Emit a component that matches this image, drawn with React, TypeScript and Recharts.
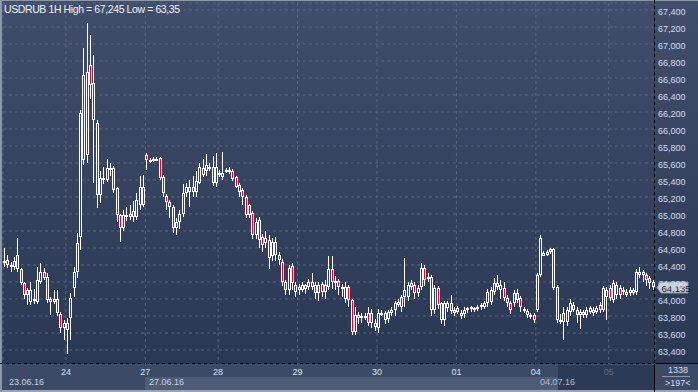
import React from 'react';
import { ComposedChart, Bar, XAxis, YAxis, CartesianGrid, ReferenceLine } from 'recharts';

// hourly candles, 23.06.16 05:00 .. 05.07.16
const opens = [
  64.424, 64.459, 64.4, 64.376, 64.518, 64.353, 64.188, 64.047, 63.965, 63.99,
  63.965, 64.2, 64.318, 64.26, 64.0, 63.965, 64.0, 63.82, 63.66, 63.63,
  63.78, 64.13, 64.32, 64.73, 66.635, 65.69, 66.75, 66.54, 66.07, 65.22,
  65.41, 65.4, 65.54, 65.54, 65.3, 64.99, 64.84, 64.99, 64.97, 64.97,
  64.96, 65.1, 65.32, 65.69, 65.64, 65.63, 65.65, 65.66, 65.44, 65.21,
  65.14, 65.08, 64.84, 64.9, 65.0, 65.25, 65.26, 65.32, 65.26, 65.37,
  65.46, 65.5, 65.55, 65.55, 65.36, 65.46, 65.43, 65.5, 65.52, 65.5,
  65.43, 65.34, 65.28, 65.2, 64.99, 65.01, 64.75, 64.93, 64.73, 64.66,
  64.69, 64.5, 64.67, 64.52, 64.44, 64.2, 64.11, 64.39, 64.08, 64.14,
  64.11, 64.16, 64.14, 64.2, 64.16, 64.07, 64.18, 64.08, 64.14, 64.35,
  64.2, 64.21, 64.14, 64.0, 64.14, 63.99, 63.61, 63.81, 63.78, 63.79,
  63.84, 63.72, 63.67, 63.66, 63.83, 63.84, 63.77, 63.83, 63.87, 63.96,
  63.9, 64.02, 64.02, 64.14, 64.16, 64.07, 64.14, 64.36, 64.23, 64.26,
  63.87, 64.13, 63.95, 63.75, 63.89, 63.95, 63.87, 63.85, 63.8, 63.82,
  63.87, 63.88, 63.89, 63.88, 63.9, 63.91, 63.95, 63.97, 64.08, 64.19,
  64.11, 64.13, 64.01, 63.95, 63.95, 64.07, 64.01, 63.88, 63.86, 63.81,
  63.81, 63.87, 64.28, 64.51, 64.52, 64.55, 64.59, 64.14, 63.75, 63.73,
  63.73, 63.85, 63.93, 63.87, 63.81, 63.85, 63.81, 63.85, 63.84, 63.85,
  63.93, 63.87, 64.02, 64.13, 63.99, 64.05, 64.13, 64.08, 64.05, 64.07,
  64.07, 64.08, 64.28, 64.32, 64.28, 64.25, 64.2,
];
const highs = [
  64.6, 64.518, 64.435, 64.494, 64.718, 64.37, 64.2, 64.13, 64.2, 64.12,
  64.376, 64.424, 64.36, 64.3, 64.02, 64.1, 64.1, 63.85, 63.75, 63.78,
  64.07, 64.38, 64.78, 66.22, 66.95, 67.245, 67.1, 66.87, 66.1, 65.5,
  65.55, 65.65, 65.6, 65.56, 65.32, 65.0, 65.05, 65.08, 65.1, 65.15,
  65.25, 65.45, 65.46, 65.72, 65.66, 65.67, 65.67, 65.67, 65.46, 65.24,
  65.16, 65.1, 64.95, 65.05, 65.35, 65.36, 65.4, 65.45, 65.5, 65.6,
  65.65, 65.7, 65.6, 65.68, 65.72, 65.52, 65.73, 65.54, 65.55, 65.53,
  65.45, 65.36, 65.3, 65.22, 65.12, 65.03, 64.95, 64.96, 64.76, 64.8,
  64.75, 64.72, 64.73, 64.55, 64.47, 64.22, 64.4, 64.42, 64.2, 64.18,
  64.2, 64.18, 64.24, 64.3, 64.2, 64.2, 64.2, 64.22, 64.5, 64.5,
  64.27, 64.24, 64.18, 64.2, 64.16, 64.0, 63.9, 63.85, 63.83, 63.84,
  63.9, 63.88, 63.76, 63.88, 63.87, 63.86, 63.87, 63.9, 63.98, 64.0,
  64.05, 64.48, 64.2, 64.22, 64.2, 64.17, 64.42, 64.4, 64.3, 64.28,
  64.17, 64.15, 63.97, 63.98, 63.98, 64.05, 63.9, 63.92, 63.87, 63.9,
  63.91, 63.92, 63.9, 63.93, 63.95, 63.98, 64.12, 64.14, 64.25, 64.28,
  64.22, 64.2, 64.05, 63.98, 64.1, 64.12, 64.03, 63.9, 63.88, 63.83,
  63.83, 64.3, 64.75, 64.56, 64.58, 64.6, 64.6, 64.16, 63.82, 63.9,
  63.9, 64.0, 63.97, 63.9, 63.88, 63.87, 63.9, 63.92, 63.9, 63.92,
  63.96, 64.15, 64.14, 64.17, 64.22, 64.2, 64.17, 64.14, 64.12, 64.14,
  64.13, 64.35, 64.38, 64.34, 64.3, 64.27, 64.22,
];
const lows = [
  64.376, 64.365, 64.318, 64.341, 64.318, 64.16, 64.0, 63.93, 63.93, 63.94,
  63.94, 64.18, 64.22, 63.95, 63.81, 63.94, 63.8, 63.6, 63.52, 63.35,
  63.52, 64.02, 64.25, 64.58, 65.58, 65.6, 66.35, 65.36, 65.07, 65.13,
  65.35, 65.38, 65.45, 65.25, 64.9, 64.67, 64.8, 64.92, 64.93, 64.9,
  64.93, 65.05, 65.08, 65.52, 65.6, 65.61, 65.62, 65.4, 65.2, 65.05,
  64.95, 64.78, 64.75, 64.82, 64.97, 65.2, 65.08, 65.2, 65.2, 65.35,
  65.44, 65.45, 65.5, 65.33, 65.32, 65.43, 65.4, 65.48, 65.47, 65.39,
  65.3, 65.2, 65.1, 64.95, 64.95, 64.7, 64.7, 64.6, 64.55, 64.6,
  64.35, 64.45, 64.45, 64.4, 64.15, 64.05, 64.05, 64.1, 64.02, 64.05,
  64.08, 64.06, 64.1, 64.1, 64.0, 63.98, 64.02, 64.0, 64.1, 64.12,
  64.1, 64.05, 64.02, 63.95, 63.9, 63.58, 63.58, 63.7, 63.72, 63.75,
  63.68, 63.66, 63.62, 63.6, 63.8, 63.7, 63.72, 63.8, 63.8, 63.9,
  63.85, 63.9, 63.98, 64.1, 64.0, 64.02, 64.1, 64.15, 64.2, 63.8,
  63.82, 63.88, 63.7, 63.68, 63.85, 63.82, 63.8, 63.82, 63.77, 63.78,
  63.84, 63.85, 63.85, 63.86, 63.87, 63.88, 63.9, 63.93, 64.05, 64.1,
  64.0, 63.98, 63.9, 63.82, 63.9, 63.95, 63.85, 63.83, 63.78, 63.76,
  63.72, 63.85, 64.26, 64.5, 64.5, 64.53, 64.1, 63.72, 63.7, 63.52,
  63.68, 63.8, 63.85, 63.72, 63.65, 63.78, 63.78, 63.82, 63.8, 63.82,
  63.84, 63.85, 63.75, 63.98, 63.95, 64.0, 64.0, 64.05, 64.02, 64.04,
  64.05, 64.05, 64.25, 64.2, 64.15, 64.12, 64.1,
];
const closes = [
  64.447, 64.4, 64.376, 64.447, 64.353, 64.188, 64.047, 64.106, 64.106, 64.0,
  64.224, 64.318, 64.25, 63.99, 63.97, 64.0, 63.83, 63.66, 63.72, 63.72,
  64.01, 64.32, 64.66, 66.19, 65.635, 66.67, 66.52, 66.11, 65.22, 65.42,
  65.42, 65.54, 65.52, 65.28, 64.99, 64.84, 64.99, 64.97, 65.0, 65.03,
  65.16, 65.32, 65.11, 65.64, 65.63, 65.65, 65.64, 65.42, 65.25, 65.14,
  65.08, 64.84, 64.9, 65.0, 65.25, 65.32, 65.32, 65.26, 65.39, 65.55,
  65.54, 65.58, 65.54, 65.36, 65.55, 65.48, 65.48, 65.52, 65.5, 65.41,
  65.32, 65.26, 65.2, 64.99, 65.1, 64.75, 64.9, 64.69, 64.64, 64.72,
  64.48, 64.67, 64.52, 64.46, 64.2, 64.11, 64.36, 64.19, 64.17, 64.11,
  64.16, 64.12, 64.2, 64.14, 64.07, 64.16, 64.08, 64.16, 64.35, 64.2,
  64.21, 64.14, 64.12, 64.14, 63.99, 63.61, 63.81, 63.78, 63.8, 63.8,
  63.72, 63.84, 63.72, 63.84, 63.84, 63.75, 63.85, 63.87, 63.95, 63.93,
  64.02, 64.1, 64.16, 64.19, 64.07, 64.13, 64.36, 64.22, 64.26, 63.87,
  64.13, 63.93, 63.75, 63.95, 63.95, 63.86, 63.84, 63.89, 63.84, 63.87,
  63.89, 63.9, 63.88, 63.91, 63.93, 63.95, 64.08, 64.11, 64.19, 64.14,
  64.16, 64.01, 63.95, 63.87, 64.07, 63.99, 63.9, 63.86, 63.81, 63.79,
  63.75, 64.28, 64.72, 64.54, 64.55, 64.59, 64.13, 63.75, 63.73, 63.84,
  63.87, 63.95, 63.87, 63.81, 63.85, 63.81, 63.87, 63.89, 63.87, 63.89,
  63.87, 64.13, 64.11, 64.01, 64.19, 64.16, 64.05, 64.11, 64.08, 64.11,
  64.1, 64.32, 64.32, 64.28, 64.22, 64.19, 64.135,
];

// day boundaries (between candles) and their labels
const dayTicks = [18.5, 42.5, 64.5, 88.5, 112.5, 136.5, 160.5, 182.5];
const dayLabels = ['24', '27', '28', '29', '30', '01', '04', '05'];
const priceTicks = [63.4, 63.6, 63.8, 64.0, 64.2, 64.4, 64.6, 64.8, 65.0, 65.2, 65.4, 65.6, 65.8, 66.0, 66.2, 66.4, 66.6, 66.8, 67.0, 67.2, 67.4];
const lastPrice = 64.135;

const data = opens.map((o, i) => ({ i, open: o, high: highs[i], low: lows[i], close: closes[i] }));

const RED = '#e4002c';
const FONT = '"Liberation Sans", Arial, sans-serif';
const fmt = (v: number, d = 3) => v.toFixed(d).replace('.', ',');

function Candle(props: any) {
  const { x, y, width, height, payload } = props;
  if (!payload) return null;
  const { open, close, high, low } = payload;
  const ppu = Math.abs(height) / (high - low);
  const yOf = (p: number) => y + (high - p) * ppu;
  const a = Math.round(x + width / 2 - 1.5);
  const wx = a + 1.5;
  const top = Math.round(yOf(Math.max(open, close)));
  let bot = Math.round(yOf(Math.min(open, close)));
  if (bot - top < 2) bot = top + 2;
  const yh = Math.round(y);
  const yl = Math.round(y + Math.abs(height));
  return (
    <g shapeRendering="crispEdges">
      {yh < top && <line x1={wx} x2={wx} y1={yh} y2={top} stroke="#fff" />}
      {yl > bot && <line x1={wx} x2={wx} y1={bot} y2={yl} stroke="#fff" />}
      <rect x={a + 0.5} y={top + 0.5} width={2} height={bot - top - 1}
        fill={close < open ? RED : 'none'} stroke="#fff" />
    </g>
  );
}

function PriceTick(p: any) {
  return (
    <text x={p.x} y={p.y} dy={5} fontSize={9} fontFamily={FONT} fill="#d4dff2" textAnchor="start">
      {fmt(p.payload.value)}
    </text>
  );
}

function DayTick(p: any) {
  const idx = dayTicks.indexOf(p.payload.value);
  const label = dayLabels[idx];
  return (
    <text x={p.x} y={p.y} dy={11} fontSize={9} fontFamily={FONT}
      fill={label === '05' ? '#5d6b86' : '#d8e2f2'} textAnchor="middle">
      {label}
    </text>
  );
}

function LastPrice(props: any) {
  const vb = props.viewBox;
  if (!vb) return null;
  const x0 = vb.x + vb.width + 2;
  const y = Math.round(vb.y) + 0.5;
  return (
    <g>
      <polygon
        points={`${x0},${y} ${x0 + 4},${y - 5.5} ${x0 + 31},${y - 5.5} ${x0 + 31},${y + 5.5} ${x0 + 4},${y + 5.5}`}
        fill="#c9cdd4" stroke="#8e95a3" />
      <text x={x0 + 4.5} y={y + 4} fontSize={9.5} fontFamily={FONT} fill="#1b2130">{fmt(lastPrice)}</text>
    </g>
  );
}

export default function App() {
  const txt = { position: 'absolute' as const, fontFamily: FONT, fontSize: 9, lineHeight: '10px', whiteSpace: 'nowrap' as const };
  return (
    <div style={{ position: 'fixed', left: 0, top: 0, width: 698, height: 392, overflow: 'hidden', background: '#3b4964' }}>
      {/* plot + right panel background */}
      <div style={{ position: 'absolute', left: 0, top: 0, width: 698, height: 364, background: 'linear-gradient(#404e6b, #2b3854)' }} />
      {/* bottom panel */}
      <div style={{ position: 'absolute', left: 0, top: 364, width: 698, height: 28, background: '#3c4a65' }} />
      <div style={{ position: 'absolute', left: 145, top: 377, width: 413, height: 13, background: '#4e5c77' }} />
      <div style={{ position: 'absolute', left: 558, top: 365, width: 97, height: 25, background: '#2d3a55' }} />
      <div style={{ position: 'absolute', left: 0, top: 390, width: 698, height: 2, background: '#9aa4b5' }} />
      <div style={{ position: 'absolute', left: 0, top: 0, width: 2, height: 392, background: '#8c97aa' }} />
      <div style={{ position: 'absolute', left: 0, top: 0, width: 698, height: 1, background: '#8c97aa' }} />
      <div style={{ position: 'absolute', left: 0, top: 363, width: 698, height: 1, background: '#000' }} />
      <div style={{ position: 'absolute', left: 654, top: 0, width: 1, height: 392, background: '#000' }} />
      <div style={{ ...txt, left: 9, top: 377, color: '#c9d4e8' }}>23.06.16</div>
      <div style={{ ...txt, left: 149, top: 377, color: '#c9d4e8' }}>27.06.16</div>
      <div style={{ ...txt, left: 540, top: 377, color: '#aeb9cc' }}>04.07.16</div>
      <div style={{ ...txt, left: 668, top: 365, color: '#d4dff2' }}>1338</div>
      <div style={{ position: 'absolute', left: 662, top: 376, width: 28, height: 1, background: '#8c97aa' }} />
      <div style={{ ...txt, left: 665, top: 378, color: '#d4dff2' }}>&gt;197&lt;</div>

      <div style={{ position: 'absolute', left: 0, top: 0 }}>
        <ComposedChart width={698} height={392} data={data} margin={{ top: 3, right: 0, bottom: 0, left: 3 }}>
          <CartesianGrid stroke="#57657f" strokeDasharray="3 3" />
          <XAxis dataKey="i" type="number" domain={[-0.5, 196.5]} ticks={dayTicks} height={28}
            axisLine={false} tickLine={false} tickSize={0} tickMargin={0} tick={<DayTick />} interval={0} />
          <YAxis orientation="right" type="number" domain={[63.235, 67.482]} allowDataOverflow ticks={priceTicks}
            width={43} axisLine={false} tickLine={false} tickSize={0} tickMargin={3} tick={<PriceTick />} interval={0} />
          <Bar dataKey={(d: any) => [d.low, d.high]} barSize={3} shape={<Candle />} isAnimationActive={false} />
          <ReferenceLine y={lastPrice} stroke="none" label={<LastPrice />} />
        </ComposedChart>
      </div>

      <div style={{ ...txt, left: 4, top: 3, fontSize: 10.5, lineHeight: '12px', letterSpacing: -0.4, color: '#eef2f8' }}>
        USDRUB 1H High = 67,245 Low = 63,35
      </div>
    </div>
  );
}
